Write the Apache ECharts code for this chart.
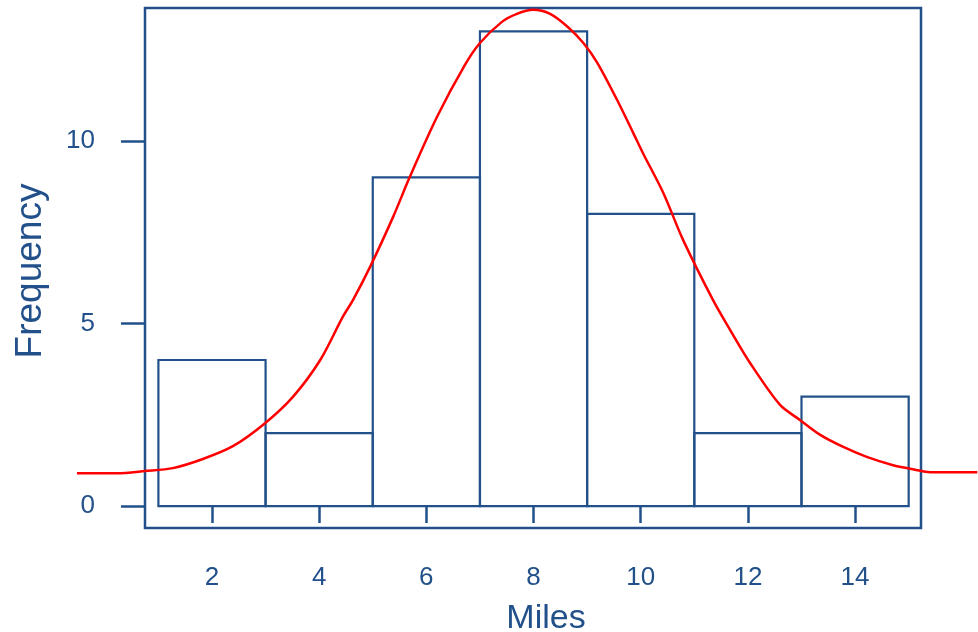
<!DOCTYPE html>
<html>
<head>
<meta charset="utf-8">
<script src="https://cdn.jsdelivr.net/npm/echarts@6/dist/echarts.min.js"></script>
<style>
  html, body { margin: 0; padding: 0; background: #fff; }
  #chart { width: 978px; height: 632px; }
</style>
</head>
<body>
<div id="chart"></div>
<script>
var chart = echarts.init(document.getElementById('chart'));

// histogram bins (miles) and counts
var binStart = [1, 3, 5, 7, 9, 11, 13];
var binEnd = [3, 5, 7, 9, 11, 13, 15];
var frequency = [4, 2, 9, 13, 8, 2, 3];

// fitted curve
var curveX = [-0.52, 0.23, 0.75, 1.27, 1.83, 2.39, 2.99, 3.51, 4.02, 4.44, 4.63, 4.95, 5.38, 5.69,
    6.20, 6.72, 7.00, 7.41, 7.69, 7.99, 8.31, 8.64, 8.93, 9.19, 9.56, 9.86, 10.04, 10.42, 10.79,
    11.35, 11.67, 12.04, 12.60, 12.97, 13.35, 13.78, 14.23, 14.71, 15.08, 15.40, 16.28];
var curveY = [0.90, 0.90, 0.96, 1.04, 1.29, 1.64, 2.27, 2.99, 4.00, 5.18, 5.64, 6.55, 7.92, 9.01,
    10.66, 12.08, 12.68, 13.26, 13.48, 13.59, 13.48, 13.12, 12.68, 12.14, 11.12, 10.22, 9.67, 8.58, 7.29,
    5.64, 4.82, 3.92, 2.77, 2.36, 1.95, 1.62, 1.34, 1.12, 1.01, 0.93, 0.93];

var xTicks = [2, 4, 6, 8, 10, 12, 14];
var yTicks = [0, 5, 10];

var blue = '#22508a';
var font = 'Liberation Sans, Arial, sans-serif';

var barData = binStart.map(function (s, i) {
    return [s, binEnd[i], frequency[i]];
});
var curveData = curveX.map(function (x, i) {
    return [x, curveY[i]];
});

// the curve runs past the box, so it gets a full-width grid on the same scale
var pxPerUnit = 776 / (15.23 - 0.75);
var zeroPx = 145 - 0.75 * pxPerUnit;

var option = {
    animation: false,
    grid: [{
        left: 145,
        right: 57,
        top: 8,
        bottom: 104,
        outerBoundsMode: 'none',
        show: true,
        borderColor: blue,
        borderWidth: 2.5,
        backgroundColor: 'transparent'
    }, {
        left: 0,
        right: 0,
        top: 8,
        bottom: 104,
        outerBoundsMode: 'none'
    }],
    xAxis: [{
        type: 'value',
        gridIndex: 0,
        min: 0.75,
        max: 15.23,
        name: 'Miles',
        nameLocation: 'middle',
        nameGap: 74,
        nameTextStyle: { color: blue, fontSize: 34, fontFamily: font, padding: [0, 0, 0, 26] },
        axisLine: { show: false },
        splitLine: { show: false },
        axisTick: {
            show: true,
            inside: false,
            length: 17,
            customValues: xTicks,
            lineStyle: { color: blue, width: 2.5 }
        },
        axisLabel: {
            customValues: xTicks,
            margin: 37,
            color: blue,
            fontSize: 26,
            fontFamily: font
        }
    }, {
        type: 'value',
        gridIndex: 1,
        min: -zeroPx / pxPerUnit,
        max: (978 - zeroPx) / pxPerUnit,
        show: false
    }],
    yAxis: [{
        type: 'value',
        gridIndex: 0,
        min: -0.6,
        max: 13.64,
        name: 'Frequency',
        nameLocation: 'middle',
        nameGap: 96,
        nameTextStyle: { color: blue, fontSize: 37, fontFamily: font, padding: [0, 6, 0, 0] },
        axisLine: { show: false },
        splitLine: { show: false },
        axisTick: {
            show: true,
            inside: false,
            length: 24,
            customValues: yTicks,
            lineStyle: { color: blue, width: 2.5 }
        },
        axisLabel: {
            customValues: yTicks,
            margin: 50,
            color: blue,
            fontSize: 26,
            fontFamily: font
        }
    }, {
        type: 'value',
        gridIndex: 1,
        min: -0.6,
        max: 13.64,
        show: false
    }],
    series: [
        {
            type: 'custom',
            xAxisIndex: 0,
            yAxisIndex: 0,
            data: barData,
            renderItem: function (params, api) {
                var p0 = api.coord([api.value(0), 0]);
                var p1 = api.coord([api.value(1), api.value(2)]);
                return {
                    type: 'rect',
                    shape: { x: p0[0], y: p1[1], width: p1[0] - p0[0], height: p0[1] - p1[1] },
                    style: { fill: 'none', stroke: blue, lineWidth: 2.2 }
                };
            },
            encode: { x: [0, 1], y: 2 }
        },
        {
            type: 'line',
            xAxisIndex: 1,
            yAxisIndex: 1,
            data: curveData,
            smooth: 0.3,
            showSymbol: false,
            clip: false,
            lineStyle: { color: '#ff0000', width: 2.5 },
            z: 5
        }
    ]
};

chart.setOption(option);
</script>
</body>
</html>
